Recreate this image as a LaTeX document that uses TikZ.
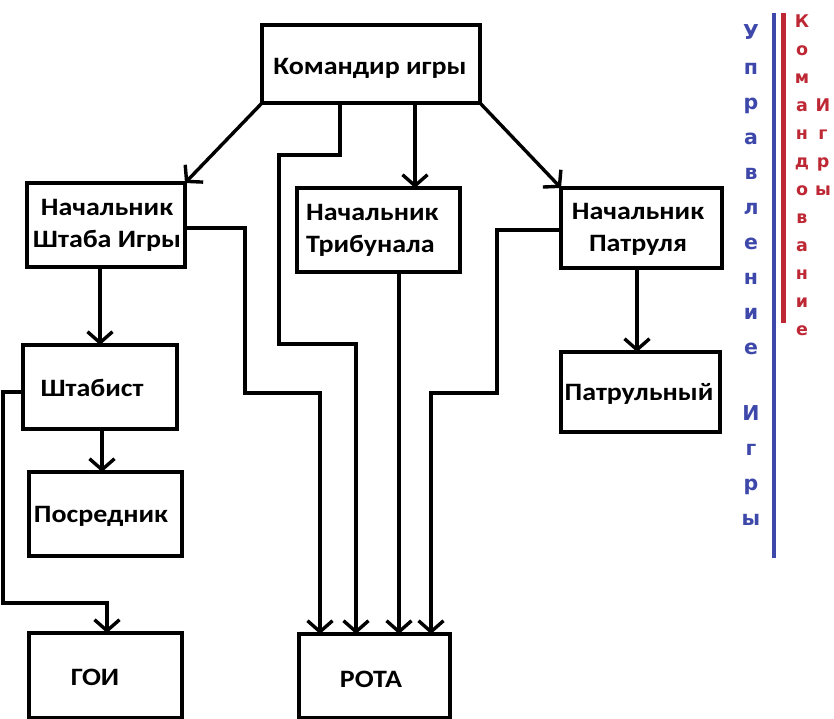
\documentclass[tikz,border=0pt]{standalone}
\usepackage{fontspec}
\setmainfont{Carlito}
\newfontfamily\sidefont{DejaVu Sans}
\usetikzlibrary{arrows.meta}
\definecolor{blueside}{RGB}{62,72,170}
\definecolor{redside}{RGB}{190,40,52}
\newcommand\stretchx[1]{\scalebox{1.12}[1]{#1}}
\tikzset{
  box/.style={draw=black, line width=3.4pt, inner sep=0pt, outer sep=0pt},
  lbl/.style={font=\fontsize{25}{32}\selectfont\bfseries, inner sep=0pt, align=center},
  conn/.style={line width=3.4pt, -{Straight Barb[length=11pt,width=25pt]}},
  bluech/.style={font=\sidefont\bfseries\fontsize{20.5}{21}\selectfont, text=blueside, inner sep=0pt, text height=5.9pt, text depth=-5.5pt},
  redch/.style={font=\sidefont\bfseries\fontsize{17.5}{18}\selectfont, text=redside, inner sep=0pt, text height=5.1pt, text depth=-4.7pt},
}
\begin{document}
\begin{tikzpicture}[x=1pt,y=-1pt]
\fill[white] (0,0) rectangle (834,719);
\useasboundingbox (0,0) rectangle (834,719);

% boxes
\node[box, minimum width=218pt, minimum height=78pt] (cmd)    at (371,64) {};
\node[box, minimum width=158pt, minimum height=84pt] (nsh)    at (106,225) {};
\node[box, minimum width=163pt, minimum height=84pt] (trib)   at (378.5,230) {};
\node[box, minimum width=161pt, minimum height=80pt] (patrol) at (641.5,228) {};
\node[box, minimum width=154pt, minimum height=84pt] (shtab)  at (100,387) {};
\node[box, minimum width=153pt, minimum height=84pt] (posr)   at (105.5,514) {};
\node[box, minimum width=153pt, minimum height=85pt] (goi)    at (105.5,675.5) {};
\node[box, minimum width=151pt, minimum height=84pt] (rota)   at (374.5,676) {};
\node[box, minimum width=159pt, minimum height=80pt] (patrul) at (640.5,392) {};

% texts
\node[lbl] (tcmd)    at (370,68)  {\stretchx{Командир игры}};
\node[lbl] (tnsh)    at (107,225) {\stretchx{Начальник}\\\stretchx{Штаба Игры}};
\node[lbl, anchor=west, align=left] (ttrib) at (306,230) {\stretchx{Начальник}\\\stretchx{Трибунала}};
\node[lbl] (tpatrol) at (638,229) {\stretchx{Начальник}\\\stretchx{Патруля}};
\node[lbl] (tshtab)  at (92,388)  {\stretchx{Штабист}};
\node[lbl] (tposr)   at (101,516) {\stretchx{Посредник}};
\node[lbl] (tgoi)    at (95,677)  {\stretchx{ГОИ}};
\node[lbl] (trota)   at (371,679) {\stretchx{РОТА}};
\node[lbl] (tpatrul) at (639,394) {\stretchx{Патрульный}};

% connectors
\draw[conn] (cmd.south west) -- (nsh.north east);
\draw[conn] (cmd.south east) -- (patrol.north west);
\draw[conn] ([xshift=44pt]cmd.south) -- ([xshift=36.5pt]trib.north);
\draw[conn] ([xshift=-31pt]cmd.south) -- (340,155) -- (279,155) -- (279,344) -- (356,344) -- ([xshift=-18.5pt]rota.north);
\draw[conn] ([yshift=-3pt]nsh.east) -- (245,228) -- (245,393) -- (320,393) -- ([xshift=-54.5pt]rota.north);
\draw[conn] ([xshift=20.5pt]trib.south) -- ([xshift=24.5pt]rota.north);
\draw[conn] ([yshift=-2pt]patrol.west) -- (497,230) -- (497,393) -- (431,393) -- ([xshift=56.5pt]rota.north);
\draw[conn] ([xshift=-6pt]nsh.south) -- (shtab.north);
\draw[conn] ([xshift=-4.5pt]patrol.south) -- ([xshift=-3.5pt]patrul.north);
\draw[conn] ([xshift=2pt]shtab.south) -- ([xshift=-3.5pt]posr.north);
\draw[conn] ([yshift=-5pt]shtab.west) -- (3,392) -- (3,603) -- (107,603) -- ([xshift=1.5pt]goi.north);

% side bars
\draw[blueside, line width=4.5pt] (774,13) -- (774,558);
\draw[redside, line width=4.5pt] (783.5,13) -- (783.5,323);

\foreach \ch [count=\i from 0] in {У,п,р,а,в,л,е,н,и,е}
  \node[bluech] (bu\i) at (751,37+35*\i) {\ch};
\foreach \ch [count=\i from 0] in {И,г,р,ы}
  \node[bluech] (bi\i) at (751,418+35*\i) {\ch};
\foreach \ch [count=\i from 0] in {К,о,м,а,н,д,о,в,а,н,и,е}
  \node[redch] (rk\i) at (802,25+28*\i) {\ch};
\foreach \ch [count=\i from 0] in {И,г,р,ы}
  \node[redch] (ri\i) at (823,109+28*\i) {\ch};
\end{tikzpicture}
\end{document}
